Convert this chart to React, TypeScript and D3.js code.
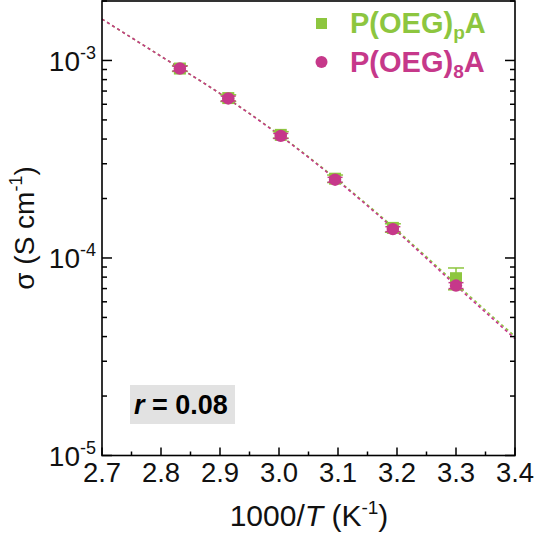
import React from "react";
import * as d3 from "d3";

// Inverse temperature (1000/T, K^-1) of each measurement
const invT = [2.832, 2.914, 3.003, 3.095, 3.193, 3.3];

// Ionic conductivity (S cm^-1) and its uncertainty
const sigmaPA = [9.1e-4, 6.45e-4, 4.2e-4, 2.52e-4, 1.42e-4, 7.9e-5];
const errPA = [3e-5, 2.5e-5, 1.6e-5, 1.1e-5, 7e-6, 1.0e-5];
const sigma8A = [9.1e-4, 6.42e-4, 4.15e-4, 2.49e-4, 1.4e-4, 7.25e-5];
const err8A = [2.5e-5, 1.8e-5, 1.2e-5, 7e-6, 4e-6, 2.5e-6];

// VTF fit curves evaluated along the x range
const fitX = [2.7, 2.8, 2.9, 3.0, 3.1, 3.2, 3.3, 3.4];
const fitPA = [1.62e-3, 1.05e-3, 6.8e-4, 4.22e-4, 2.47e-4, 1.38e-4, 7.4e-5, 4.0e-5];
const fit8A = [1.62e-3, 1.05e-3, 6.8e-4, 4.2e-4, 2.45e-4, 1.36e-4, 7.25e-5, 3.9e-5];

// Axis ticks
const xTicks = [2.7, 2.8, 2.9, 3.0, 3.1, 3.2, 3.3, 3.4];
const yMajor = [1e-5, 1e-4, 1e-3];
const yMajorExp = ["-5", "-4", "-3"];

const GREEN = "#8DC63F";
const PINK = "#C6388A";
const FONT = "'Liberation Sans', Arial, sans-serif";

export default function App() {
  const W = 534;
  const H = 534;
  const left = 102;
  const right = 515;
  const top = 1;
  const bottom = 455.5;

  const x = d3.scaleLinear().domain([2.7, 3.4]).range([left, right]);
  const y = d3.scaleLog().domain([1e-5, 2e-3]).range([bottom, top]);

  const line = d3
    .line<[number, number]>()
    .x((d) => x(d[0]))
    .y((d) => y(d[1]))
    .curve(d3.curveMonotoneX);

  const minorX: number[] = [];
  for (let i = 0; i < xTicks.length - 1; i++) minorX.push((xTicks[i] + xTicks[i + 1]) / 2);

  const minorY: number[] = [];
  for (let e = -5; e <= -3; e++) {
    for (let m = 2; m <= 9; m++) {
      const v = m * Math.pow(10, e);
      if (v <= 2e-3) minorY.push(v);
    }
  }

  const fontBase = { fontFamily: FONT };

  return (
    <svg width={W} height={H} style={{ position: "absolute", left: 0, top: 0, background: "#fff" }}>
      {/* fit curves */}
      <path
        d={line(fitX.map((v, i) => [v, fitPA[i]]) as [number, number][]) || ""}
        fill="none"
        stroke={GREEN}
        strokeWidth={1.6}
        strokeDasharray="3,3"
      />
      <path
        d={line(fitX.map((v, i) => [v, fit8A[i]]) as [number, number][]) || ""}
        fill="none"
        stroke={PINK}
        strokeWidth={1.6}
        strokeDasharray="3,3"
      />

      {/* P(OEG)pA: squares with error bars */}
      {invT.map((t, i) => {
        const cx = x(t);
        const y1 = y(sigmaPA[i] + errPA[i]);
        const y2 = y(sigmaPA[i] - errPA[i]);
        return (
          <g key={"pa" + i}>
            <line x1={cx} x2={cx} y1={y1} y2={y2} stroke={GREEN} strokeWidth={1.5} />
            <line x1={cx - 8} x2={cx + 8} y1={y1} y2={y1} stroke={GREEN} strokeWidth={1.5} />
            <line x1={cx - 8} x2={cx + 8} y1={y2} y2={y2} stroke={GREEN} strokeWidth={1.5} />
            <rect x={cx - 6} y={y(sigmaPA[i]) - 6} width={12} height={12} fill={GREEN} />
          </g>
        );
      })}

      {/* P(OEG)8A: circles with error bars */}
      {invT.map((t, i) => {
        const cx = x(t);
        const y1 = y(sigma8A[i] + err8A[i]);
        const y2 = y(sigma8A[i] - err8A[i]);
        return (
          <g key={"p8" + i}>
            <line x1={cx} x2={cx} y1={y1} y2={y2} stroke={PINK} strokeWidth={1.5} />
            <line x1={cx - 7.5} x2={cx + 7.5} y1={y1} y2={y1} stroke={PINK} strokeWidth={1.5} />
            <line x1={cx - 7.5} x2={cx + 7.5} y1={y2} y2={y2} stroke={PINK} strokeWidth={1.5} />
            <circle cx={cx} cy={y(sigma8A[i])} r={6.2} fill={PINK} />
          </g>
        );
      })}

      {/* frame */}
      <rect
        x={left}
        y={top}
        width={right - left}
        height={bottom - top}
        fill="none"
        stroke="#000"
        strokeWidth={1.6}
      />

      {/* x ticks (inward) */}
      {xTicks.map((t) => (
        <line key={"xt" + t} x1={x(t)} x2={x(t)} y1={bottom} y2={bottom - 8} stroke="#000" strokeWidth={1.5} />
      ))}
      {minorX.map((t) => (
        <line key={"xm" + t} x1={x(t)} x2={x(t)} y1={bottom} y2={bottom - 4} stroke="#000" strokeWidth={1.5} />
      ))}

      {/* y ticks on both sides */}
      {yMajor.map((v) => (
        <g key={"ym" + v}>
          <line x1={left} x2={left + 10} y1={y(v)} y2={y(v)} stroke="#000" strokeWidth={1.5} />
          <line x1={right} x2={right - 10} y1={y(v)} y2={y(v)} stroke="#000" strokeWidth={1.5} />
        </g>
      ))}
      {minorY.map((v) => (
        <g key={"yn" + v}>
          <line x1={left} x2={left + 5} y1={y(v)} y2={y(v)} stroke="#000" strokeWidth={1.5} />
          <line x1={right} x2={right - 5} y1={y(v)} y2={y(v)} stroke="#000" strokeWidth={1.5} />
        </g>
      ))}

      {/* x tick labels */}
      {xTicks.map((t) => (
        <text
          key={"xl" + t}
          x={x(t)}
          y={bottom + 26}
          textAnchor="middle"
          fontSize={27.5}
          fill="#111"
          style={fontBase}
        >
          {t.toFixed(1)}
        </text>
      ))}

      {/* y tick labels */}
      {yMajor.map((v, i) => (
        <text key={"yl" + v} x={96} y={y(v) + 10.5} textAnchor="end" fontSize={28} fill="#111" style={fontBase}>
          10
          <tspan fontSize={18} dy={-12}>
            {yMajorExp[i]}
          </tspan>
        </text>
      ))}

      {/* axis titles */}
      <text x={309} y={526} textAnchor="middle" fontSize={30} fill="#111" style={fontBase}>
        1000/<tspan fontStyle="italic">T</tspan> (K
        <tspan fontSize={19} dy={-12}>
          -1
        </tspan>
        <tspan dy={12}>)</tspan>
      </text>
      <text
        transform={`translate(34,228) rotate(-90)`}
        textAnchor="middle"
        fontSize={28}
        fill="#111"
        style={fontBase}
      >
        σ (S cm
        <tspan fontSize={18} dy={-12}>
          -1
        </tspan>
        <tspan dy={12}>)</tspan>
      </text>

      {/* legend */}
      <rect x={316} y={18} width={11} height={11} fill={GREEN} />
      <text x={350} y={33} fontSize={29} fontWeight="bold" fill={GREEN} style={fontBase}>
        P(OEG)
        <tspan fontSize={19} dy={6}>
          p
        </tspan>
        <tspan dy={-6}>A</tspan>
      </text>
      <circle cx={321.5} cy={62} r={6} fill={PINK} />
      <text x={350} y={72} fontSize={29} fontWeight="bold" fill={PINK} style={fontBase}>
        P(OEG)
        <tspan fontSize={19} dy={6}>
          8
        </tspan>
        <tspan dy={-6}>A</tspan>
      </text>

      {/* r annotation */}
      <rect x={130} y={385} width={105} height={39} fill="#E2E2E2" />
      <text x={134} y={414} fontSize={27} fontWeight="bold" fill="#000" style={fontBase}>
        <tspan fontStyle="italic">r</tspan> = 0.08
      </text>
    </svg>
  );
}
